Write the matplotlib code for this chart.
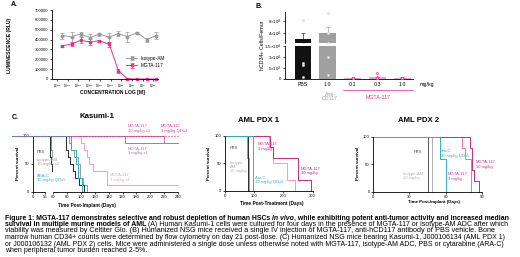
import matplotlib
matplotlib.use("Agg")
import matplotlib.pyplot as plt

W, H = 520, 257
plt.rcParams['font.family'] = ['Liberation Sans', 'DejaVu Sans']
plt.rcParams['mathtext.fontset'] = 'custom'
plt.rcParams['mathtext.rm'] = 'Liberation Sans'
plt.rcParams['axes.linewidth'] = 0.6

PINK = '#e8308a'
MAGENTA = '#c02f86'
LPINK = '#f39bc8'
MAUVE = '#c76aa6'
GRAY = '#9a9a9a'
LGRAY = '#b0b0b0'
DARK = '#2a2a2a'
TEAL = '#33b0c0'

# ---------------- panel A data ----------------
conc = [2.75e-15, 2.3e-14, 1.6e-13, 1.2e-12, 8.9e-12, 7.8e-11, 5.4e-10, 3.7e-9, 3.2e-8, 2.4e-7, 1.8e-6]
iso_rlu = [440e3, 430e3, 455e3, 420e3, 455e3, 425e3, 460e3, 430e3, 470e3, 400e3, 440e3]
iso_err = [30e3, 50e3, 20e3, 40e3, 15e3, 45e3, 25e3, 50e3, 10e3, 20e3, 35e3]
mgta_rlu = [335e3, 355e3, 392e3, 375e3, 388e3, 352e3, 85e3, 3e3, 0, 0, 0]
mgta_err = [10e3, 20e3, 30e3, 35e3, 10e3, 25e3, 20e3, 3e3, 0, 0, 0]
a_xticks = [1e-15, 1e-14, 1e-13, 1e-12, 1e-11, 1e-10, 1e-9, 1e-8, 1e-7, 1e-6]
a_xlabels = [r'$10^{-15}$', r'$10^{-14}$', r'$10^{-13}$', r'$10^{-12}$', r'$10^{-11}$',
             r'$10^{-10}$', r'$10^{-9}$', r'$10^{-8}$', r'$10^{-7}$', r'$10^{-6}$']
a_yticks = [0, 100000, 200000, 300000, 400000, 500000, 600000, 700000]

# ---------------- panel B data ----------------
b_groups = ['PBS', '1.0', '0.1', '0.3', '1.0']
b_means = [21000, 40000, 300, 700, 400]
b_err = [19000, 21000, 200, 300, 200]
b_colors = ['#111111', '#a0a0a0', '#f2a0c8', '#f2a0c8', '#f2a0c8']
b_ecolors = ['#222222', '#a0a0a0', PINK, PINK, PINK]
b_dots = [[82000, 7300, 6200, 900],
          [104000, 40000, 10000, 1700],
          [200, 350, 500, 250],
          [2600, 400, 700, 300],
          [300, 500, 450, 350]]
b_lo_ticks = [0, 5000, 10000, 15000]
b_lo_labels = ['0', r'5$\times$10$^3$', r'1$\times$10$^4$', r'1.5$\times$10$^4$']
b_hi_ticks = [40000, 80000]
b_hi_labels = [r'4$\times$10$^4$', r'8$\times$10$^4$']

# ---------------- panel C data (days, percent survival) ----------------
kas = {
    'PBS': ([0, 79, 81, 84, 88, 92, 97, 104], [100, 75, 62.5, 50, 37.5, 25, 12.5, 0]),
    'Isotype': ([0, 83, 86, 90, 95, 99, 103, 108], [100, 87.5, 75, 62.5, 50, 25, 12.5, 0]),
    'ARA-C': ([0, 86, 93, 96, 101], [100, 75, 50, 25, 0]),
    'M1': ([0, 100, 104, 108, 112, 117, 138, 240], [100, 87.5, 75, 62.5, 50, 37.5, 12.5, 12.5]),
    'M3': ([0, 163, 240], [100, 87.5, 87.5]),
    'M10': ([0, 220, 240], [100, 87.5, 87.5]),
    'M3Q': ([0, 222, 240], [100, 100, 100]),
}
pdx1 = {
    'Isotype': ([0, 75, 82], [100, 60, 0]),
    'PBS': ([0, 80], [100, 0]),
    'ARA-C': ([0, 95], [100, 0]),
    'M3': ([0, 150, 165, 212, 240], [100, 80, 50, 20, 0]),
    'M10': ([0, 155, 165, 250, 295], [100, 80, 60, 20, 0]),
}
pdx2 = {
    'PBS': ([0, 45], [100, 0]),
    'Isotype': ([0, 49], [100, 0]),
    'ARA-C': ([0, 55, 60], [100, 60, 0]),
    'M3': ([0, 74, 76, 81], [100, 80, 60, 0]),
    'M10': ([0, 80, 82, 84, 88], [100, 80, 40, 20, 0]),
}

fig = plt.figure(figsize=(W / 100, H / 100), dpi=100)


def rect(l, t, r, b):
    return [l / W, 1 - b / H, (r - l) / W, (b - t) / H]


def ftext(x, y, s, **kw):
    kw.setdefault('va', 'center')
    return fig.text(x / W, 1 - y / H, s, **kw)


def style(ax, fs=3.2):
    for s in ['top', 'right']:
        ax.spines[s].set_visible(False)
    ax.tick_params(labelsize=fs, length=1.5, width=0.5, pad=1)


# ---------------- A ----------------
axA = fig.add_axes(rect(52, 10, 158, 79))
axA.set_xscale('log')
axA.errorbar(conc, iso_rlu, yerr=iso_err, color=GRAY, marker='o', ms=1.8, lw=0.7,
             elinewidth=0.5, capsize=1.2, capthick=0.5, label='Isotype-AM', clip_on=False)
axA.errorbar(conc, mgta_rlu, yerr=mgta_err, color=PINK, marker='s', ms=1.8, lw=0.7,
             elinewidth=0.5, capsize=1.2, capthick=0.5, label='MGTA-117', clip_on=False)
axA.set_xlim(10 ** -15.47, 10 ** -5.56)
axA.set_ylim(0, 700000)
axA.set_xticks(a_xticks)
axA.set_xticklabels(a_xlabels)
axA.minorticks_off()
axA.set_yticks(a_yticks)
axA.set_yticklabels([str(v) for v in a_yticks])
style(axA, 3.0)
axA.tick_params(axis='x', labelsize=2.2)
axA.legend(loc='center left', bbox_to_anchor=(0.68, 0.25), fontsize=3.4, frameon=False,
           handlelength=2.2, labelspacing=0.5, borderpad=0)
ftext(10, 45, 'LUMINESCENCE (RLU)', rotation=90, ha='center', fontsize=3.6, fontweight='bold')
ftext(112, 92, 'CONCENTRATION LOG [M]', ha='center', fontsize=3.6, fontweight='bold')
ftext(11, 5, 'A.', fontsize=5, fontweight='bold')

# ---------------- B ----------------
axLo = fig.add_axes(rect(285, 45.7, 413, 78.7))
axHi = fig.add_axes(rect(285, 12, 413, 43))
xs = list(range(len(b_groups)))
for ax, lim in [(axLo, (0, 15000)), (axHi, (9200, 108000))]:
    ax.bar(xs, b_means, width=0.68, color=b_colors, zorder=1)
    for i in xs:
        ax.errorbar([xs[i]], [b_means[i]], yerr=[[0], [b_err[i]]], fmt='none', ecolor=b_ecolors[i],
                    elinewidth=0.5, capsize=1.5, capthick=0.5, zorder=2)
    for i, d in enumerate(b_dots):
        ec = PINK if i >= 2 else '#c8c8c8'
        ax.scatter([xs[i]] * len(d), d, s=2.5, facecolor='white' if i < 2 else '#f6c0dc',
                   edgecolor=ec, linewidth=0.4, zorder=3, clip_on=True)
    ax.set_xlim(-0.73, 4.44)
    ax.set_ylim(*lim)
    style(ax, 3.2)
    ax.set_xticks([])
axLo.set_yticks(b_lo_ticks)
axLo.set_yticklabels(b_lo_labels)
axHi.set_yticks(b_hi_ticks)
axHi.set_yticklabels(b_hi_labels)
axHi.spines['bottom'].set_visible(False)
ftext(263, 45, 'hCD34+ Cells/Femur', rotation=90, ha='center', fontsize=3.8)
for i, g in enumerate(b_groups):
    ftext(303 + 24.75 * i, 85, g, ha='center', fontsize=3.8)
ftext(330, 96.5, 'Anti-\nCD117', ha='center', fontsize=3.8, color='#a0a0a0', linespacing=1.0)
fig.add_artist(plt.Line2D([343 / W, 413 / W], [1 - 90 / H, 1 - 90 / H], color=PINK, lw=0.5))
ftext(378, 97.5, 'MGTA-117', ha='center', fontsize=3.8, color=PINK)
ftext(420, 84.5, 'mg/kg', ha='left', fontsize=3.8)
ftext(255, 6, 'B.', fontsize=5, fontweight='bold')


# ---------------- C ----------------
def km(ax, data, key, color, lw=0.7, ls='-'):
    t, s = data[key]
    ax.plot(t, s, drawstyle='steps-post', color=color, lw=lw, ls=ls, clip_on=False)


kas_style = [('M1', LPINK), ('M3', MAUVE), ('M10', MAUVE), ('Isotype', GRAY),
             ('PBS', DARK), ('ARA-C', TEAL)]
axK0 = fig.add_axes(rect(33, 135.7, 45, 191.7))
axK1 = fig.add_axes(rect(53.3, 135.7, 178, 191.7))
for ax in (axK0, axK1):
    for k, c in kas_style:
        km(ax, kas, k, c)
    ax.set_ylim(0, 100)
    style(ax, 3.0)
km(axK1, kas, 'M3Q', PINK, lw=0.8, ls=':')
axK0.set_xlim(0, 56)
axK0.set_xticks([0, 56])
axK0.set_yticks([0, 50, 100])
axK1.set_xlim(60, 240)
axK1.set_xticks(range(60, 241, 20))
axK1.spines['left'].set_visible(False)
axK1.set_yticks([])
ftext(97, 117, 'Kasumi-1', ha='center', fontsize=5.6, fontweight='bold')
ftext(87, 205, 'Time Post-Implant (Days)', ha='center', fontsize=3.4, fontweight='bold')
ftext(18, 163, 'Percent survival', rotation=90, ha='center', fontsize=3.2, fontweight='bold')
fs = 3.0
ftext(37, 152, 'PBS', fontsize=fs, color='#555555')
ftext(37, 162, 'Isotype-AM\n10 mg/kg x1', fontsize=fs, color=GRAY, linespacing=1.1)
ftext(37, 178, 'ARA-C\n30 mg/kg QDx5', fontsize=fs, color=TEAL, linespacing=1.1)
ftext(128, 128.5, 'MGTA-117\n10 mg/kg x1', fontsize=fs, color='#d0509a', linespacing=1.1)
ftext(128, 151, 'MGTA-117\n3 mg/kg x1', fontsize=fs, color=MAUVE, linespacing=1.1)
ftext(110, 177.5, 'MGTA-117\n1 mg/kg x1', fontsize=fs, color=LPINK, linespacing=1.1)
ftext(161, 128.5, 'MGTA-117\n3 mg/kg QDx2', fontsize=fs, color=PINK, linespacing=1.1)
ftext(12, 118, 'C.', fontsize=5, fontweight='bold')

axP1 = fig.add_axes(rect(225, 135.7, 312.7, 191))
for k, c in [('M3', LPINK), ('M10', MAGENTA), ('Isotype', GRAY), ('PBS', DARK), ('ARA-C', TEAL)]:
    km(axP1, pdx1, k, c)
axP1.set_xlim(0, 300)
axP1.set_ylim(0, 100)
axP1.set_xticks([0, 100, 200, 300])
axP1.set_yticks([0, 50, 100])
style(axP1, 3.0)
ftext(258, 121, 'AML PDX 1', ha='center', fontsize=5.6, fontweight='bold')
ftext(272, 203, 'Time Post-Treatment (Days)', ha='center', fontsize=3.4, fontweight='bold')
ftext(209, 163, 'Percent survival', rotation=90, ha='center', fontsize=3.2, fontweight='bold')
ftext(238, 148, 'PBS', ha='right', fontsize=fs, color='#555555')
ftext(230, 167, 'Isotype-\nAM\n10 mg/kg', fontsize=fs, color=LGRAY, linespacing=1.1)
ftext(255, 180, 'Ara C\n30 mg/kg QDx5', fontsize=fs, color=TEAL, linespacing=1.1)
ftext(258, 146.5, 'MGTA-117\n3 mg/kg', fontsize=fs, color=PINK, linespacing=1.1)
ftext(301, 171, 'MGTA-117\n10 mg/kg', fontsize=fs, color=MAGENTA, linespacing=1.1)

axP2 = fig.add_axes(rect(373.3, 136.7, 481.7, 191.7))
for k, c in [('M3', '#f070b0'), ('M10', MAGENTA), ('Isotype', LGRAY), ('PBS', '#555555'), ('ARA-C', TEAL)]:
    km(axP2, pdx2, k, c)
axP2.set_xlim(0, 90)
axP2.set_ylim(0, 100)
axP2.set_xticks([0, 30, 60, 90])
axP2.set_yticks([0, 50, 100])
style(axP2, 3.0)
ftext(419, 121, 'AML PDX 2', ha='center', fontsize=5.6, fontweight='bold')
ftext(434, 202, 'Time Post-Implant (Days)', ha='center', fontsize=3.2, fontweight='bold')
ftext(358, 163, 'Percent survival', rotation=90, ha='center', fontsize=3.2, fontweight='bold')
ftext(422, 152, 'PBS', ha='right', fontsize=fs, color='#555555')
ftext(403, 176, 'Isotype-AM\n10 mg/kg', fontsize=fs, color=LGRAY, linespacing=1.1)
ftext(441, 153.5, 'ara-C\n30 mg/kg QDx5', fontsize=fs, color=TEAL, linespacing=1.1)
ftext(448, 176.5, 'MGTA-117\n3 mg/kg', fontsize=fs, color=PINK, linespacing=1.1)
ftext(476, 164.5, 'MGTA-117\n10 mg/kg', fontsize=fs, color=MAGENTA, linespacing=1.1)

# ---------------- caption ----------------
caption = [
    [("Figure 1: MGTA-117 demonstrates selective and robust depletion of human HSCs ", 'bold', 'normal'),
     ("in vivo", 'bold', 'italic'),
     (", while exhibiting potent anti-tumor activity and increased median", 'bold', 'normal')],
    [("survival in multiple murine models of AML", 'bold', 'normal'),
     (" (A) Human Kasumi-1 cells were cultured for four days in the presence of MGTA-117 or isotype-AM ADC after which", 'normal', 'normal')],
    [("viability was measured by Celtiter Glo. (B) Humanized NSG mice received a single IV injection of MGTA-117, anti-hCD117 antibody or PBS vehicle. Bone", 'normal', 'normal')],
    [("marrow human CD34+ counts were determined by flow cytometry on day 21 post-dose. (C) Humanized NSG mice bearing Kasumi-1, J000106134 (AML PDX 1)", 'normal', 'normal')],
    [("or J000106132 (AML PDX 2) cells. Mice were administered a single dose unless otherwise noted with MGTA-117, isotype-AM ADC, PBS or cytarabine (ARA-C)", 'normal', 'normal')],
    [("when peripheral tumor burden reached 2-5%.", 'normal', 'normal')],
]
cap_y = [218, 224.5, 231, 237.5, 244, 250.5]
cap_end = [515, 509, 505, 508, 508, None]

renderer = fig.canvas.get_renderer()


def width(s, size, weight, fstyle):
    t = fig.text(0, 0, s, fontsize=size, fontweight=weight, fontstyle=fstyle)
    w = t.get_window_extent(renderer).width
    t.remove()
    return w


def runs_width(runs, size):
    total = 0
    for s, wt, st in runs:
        sw = width('x x', size, wt, st) - width('xx', size, wt, st)
        if s.startswith(' '):
            total += sw
        total += width(s.strip(), size, wt, st)
        if s.endswith(' '):
            total += sw
    return total


base = 5.0
sizes = []
for runs, end in zip(caption, cap_end):
    if end is None:
        sizes.append(sum(sizes) / len(sizes))
    else:
        sizes.append(base * (end - 5) / runs_width(runs, base))

for runs, y, size in zip(caption, cap_y, sizes):
    x = 5.0
    for s, wt, st in runs:
        sw = width('x x', size, wt, st) - width('xx', size, wt, st)
        if s.startswith(' '):
            x += sw
        t = ftext(x, y, s.strip(), fontsize=size, fontweight=wt, fontstyle=st)
        x += t.get_window_extent(renderer).width
        if s.endswith(' '):
            x += sw

fig.savefig('out.png', dpi=100)
